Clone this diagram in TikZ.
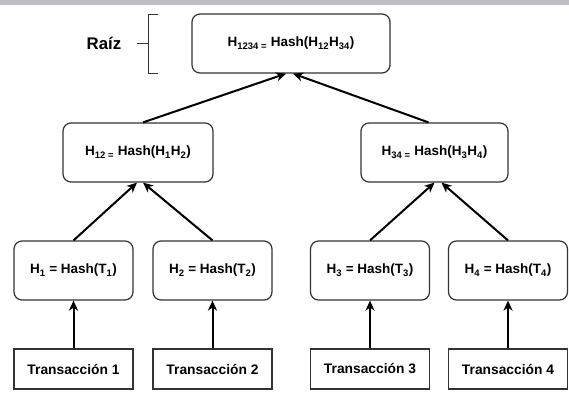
\documentclass[tikz,border=0pt]{standalone}
\usepackage{fontspec}
\setmainfont{Liberation Sans}
\usepackage{tikz}
\usetikzlibrary{arrows.meta}

\definecolor{barra}{RGB}{190,191,195}
\definecolor{borde}{RGB}{51,51,51}

\tikzset{
    hashbox/.style={draw=borde, line width=1.2pt, rounded corners=8pt, fill=white,
        minimum width=119pt, minimum height=59pt, inner sep=0pt,
        font=\bfseries\fontsize{13.5}{16}\selectfont},
    txbox/.style={draw=borde, line width=1.2pt, fill=white,
        minimum width=119pt, minimum height=40pt, inner sep=0pt,
        font=\bfseries\fontsize{13.8}{16}\selectfont},
    flecha/.style={line width=2pt, -{Stealth[length=10pt, width=9pt, inset=3pt]}}
}

\begin{document}
\begin{tikzpicture}[x=1pt, y=-1pt]

    \useasboundingbox (0,0) rectangle (569,394);
    \fill[barra] (0,0) rectangle (569,4.5); % barra superior

    % raiz
    \node[hashbox, minimum width=198pt] (root) at (291,43.5)
        {H\textsubscript{1234 =} Hash(H\textsubscript{12}H\textsubscript{34})};
    \node[font=\bfseries\fontsize{16.8}{19}\selectfont] (raiz) at (104,43.5) {Raíz};
    \draw[borde, line width=1pt] (158,14) -- (148,14) -- (148,73) -- (158,73);
    \draw[borde, line width=1pt] (137,43.5) -- (148,43.5);

    % nivel intermedio
    \node[hashbox, minimum width=150pt] (h12) at (138,152.5)
        {H\textsubscript{12 =} Hash(H\textsubscript{1}H\textsubscript{2})};
    \node[hashbox, minimum width=147pt] (h34) at (434.5,152.5)
        {H\textsubscript{34 =} Hash(H\textsubscript{3}H\textsubscript{4})};

    % hojas
    \node[hashbox] (h1) at (73.5,270.5) {H\textsubscript{1} = Hash(T\textsubscript{1})};
    \node[hashbox] (h2) at (212.5,270.5) {H\textsubscript{2} = Hash(T\textsubscript{2})};
    \node[hashbox] (h3) at (370,270.5) {H\textsubscript{3} = Hash(T\textsubscript{3})};
    \node[hashbox] (h4) at (508,270.5) {H\textsubscript{4} = Hash(T\textsubscript{4})};

    % transacciones
    \node[txbox] (t1) at (73.5,369) {Transacción 1};
    \node[txbox] (t2) at (212.5,369) {Transacción 2};
    \node[txbox] (t3) at (370,369) {Transacción 3};
    \node[txbox] (t4) at (508,369) {Transacción 4};

    \draw[flecha] (t1) -- (h1);
    \draw[flecha] (t2) -- (h2);
    \draw[flecha] (t3) -- (h3);
    \draw[flecha] (t4) -- (h4);

    \draw[flecha] (h1.north) -- ([xshift=-1pt]h12.south);
    \draw[flecha] (h2.north) -- ([xshift=5pt]h12.south);
    \draw[flecha] (h3.north) -- ([xshift=0pt]h34.south);
    \draw[flecha] (h4.north) -- ([xshift=7pt]h34.south);

    \draw[flecha] ([xshift=5pt]h12.north) -- ([xshift=-5pt]root.south);
    \draw[flecha] ([xshift=-6pt]h34.north) -- ([xshift=2pt]root.south);

\end{tikzpicture}
\end{document}
